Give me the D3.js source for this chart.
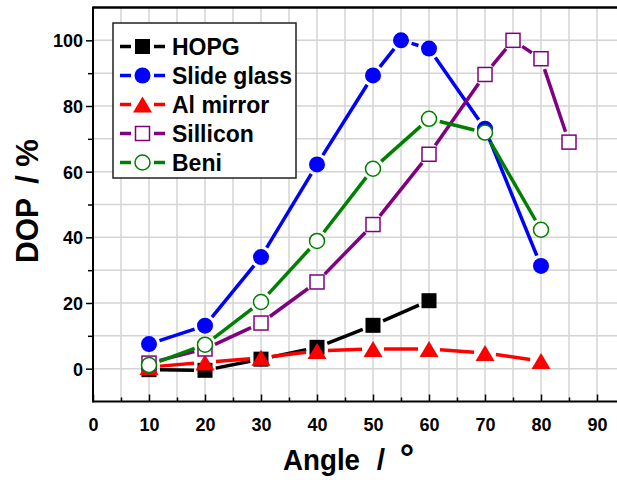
<!DOCTYPE html>
<html>
<head>
<meta charset="utf-8">
<script src="https://cdn.jsdelivr.net/npm/d3@7/dist/d3.min.js"></script>
<style>
  html, body { margin: 0; padding: 0; background: #fff; }
  svg { display: block; }
  text { font-family: "Liberation Sans", Arial, sans-serif; font-weight: bold; fill: #000; }
</style>
</head>
<body>
<svg id="chart" width="617" height="480"></svg>
<script>
// Degree of polarisation against angle for each sample
const seriesNames = ["HOPG", "Slide glass", "Al mirror", "Sillicon", "Beni"];

const hopgAngle = [10, 20, 30, 40, 50, 60];
const hopgDOP   = [-0.3, -0.5, 2.9, 6.5, 13.2, 20.7];

const slideAngle = [10, 20, 30, 40, 50, 55, 60, 70, 80];
const slideDOP   = [7.5, 13.1, 34.0, 62.2, 89.3, 100, 97.5, 73.1, 31.3];

const alAngle = [10, 20, 30, 40, 50, 60, 70, 80];
const alDOP   = [0.5, 1.9, 3.3, 5.4, 6.0, 6.0, 4.8, 2.3];

const siAngle = [10, 20, 30, 40, 50, 60, 70, 75, 80, 85];
const siDOP   = [1.7, 6.0, 13.9, 26.4, 43.9, 65.3, 89.6, 100, 94.4, 69.0];

const beniAngle = [10, 20, 30, 40, 50, 60, 70, 80];
const beniDOP   = [1.1, 7.3, 20.3, 38.9, 60.9, 76.1, 71.9, 42.3];

const xTickValues = [0, 10, 20, 30, 40, 50, 60, 70, 80, 90];
const yTickValues = [0, 20, 40, 60, 80, 100];

const seriesColors  = ["#000000", "#0000ff", "#ff0000", "#800080", "#008000"];
const seriesSymbols = ["square", "circle", "triangle", "openSquare", "openCircle"];

const series = [
  { angle: hopgAngle,  dop: hopgDOP },
  { angle: slideAngle, dop: slideDOP },
  { angle: alAngle,    dop: alDOP },
  { angle: siAngle,    dop: siDOP },
  { angle: beniAngle,  dop: beniDOP }
].map((s, i) => ({
  name: seriesNames[i],
  color: seriesColors[i],
  symbol: seriesSymbols[i],
  points: s.angle.map((a, j) => ({ x: a, y: s.dop[j] }))
}));

const svg = d3.select("#chart");
const W = 617, H = 480;
const plotLeft = 93, plotTop = 7.5, plotBottom = 401.5;

const x = d3.scaleLinear().domain([0, 90]).range([plotLeft, 597]);
const y = d3.scaleLinear().domain([-10, 110]).range([plotBottom, plotTop]);
const xMaxVisible = x.invert(W);

svg.append("rect").attr("width", W).attr("height", H).attr("fill", "#fff");

// grid
const grid = svg.append("g").attr("stroke", "#d4d4d4").attr("stroke-width", 1.5);
grid.selectAll("line.vx")
  .data(d3.range(5, xMaxVisible, 5))
  .join("line")
  .attr("x1", d => x(d)).attr("x2", d => x(d))
  .attr("y1", plotTop).attr("y2", plotBottom);
grid.selectAll("line.hy")
  .data(d3.range(0, 110, 10))
  .join("line")
  .attr("x1", plotLeft).attr("x2", W)
  .attr("y1", d => y(d)).attr("y2", d => y(d));

// y axis: major ticks outward with labels, minor ticks at every 10
const yAxis = d3.axisLeft(y).tickValues(yTickValues).tickSize(7).tickPadding(3).tickFormat(d3.format("d"));
const gy = svg.append("g").attr("transform", `translate(${plotLeft},0)`).call(yAxis);
gy.select(".domain").remove();
gy.selectAll(".tick line").attr("stroke", "#000").attr("stroke-width", 1.5);
gy.selectAll(".tick text").attr("font-size", 18).attr("font-family", "Liberation Sans, Arial, sans-serif")
  .attr("font-weight", "bold").attr("fill", "#000").attr("dy", "0.36em");
svg.append("g").attr("transform", `translate(${plotLeft},0)`)
  .call(d3.axisLeft(y).tickValues([10, 30, 50, 70, 90]).tickSize(5).tickFormat(""))
  .call(g => g.select(".domain").remove())
  .selectAll(".tick line").attr("stroke", "#000").attr("stroke-width", 1.5);

// x axis: ticks point inward
const xAxis = d3.axisBottom(x).tickValues(xTickValues).tickSize(-7).tickPadding(17).tickFormat(d3.format("d"));
const gx = svg.append("g").attr("transform", `translate(0,${plotBottom})`).call(xAxis);
gx.select(".domain").remove();
gx.selectAll(".tick line").attr("stroke", "#000").attr("stroke-width", 1.5);
gx.selectAll(".tick text").attr("font-size", 18).attr("font-family", "Liberation Sans, Arial, sans-serif")
  .attr("font-weight", "bold").attr("fill", "#000");
svg.append("g").attr("transform", `translate(0,${plotBottom})`)
  .call(d3.axisBottom(x).tickValues(d3.range(5, xMaxVisible, 10)).tickSize(-4).tickFormat(""))
  .call(g => g.select(".domain").remove())
  .selectAll(".tick line").attr("stroke", "#000").attr("stroke-width", 1.5);

// frame: left axis, bottom axis, top border
svg.append("line").attr("x1", plotLeft).attr("x2", plotLeft).attr("y1", plotTop - 1).attr("y2", plotBottom + 1)
  .attr("stroke", "#000").attr("stroke-width", 2);
svg.append("line").attr("x1", plotLeft).attr("x2", W).attr("y1", plotBottom).attr("y2", plotBottom)
  .attr("stroke", "#000").attr("stroke-width", 2);
svg.append("line").attr("x1", plotLeft).attr("x2", W).attr("y1", plotTop).attr("y2", plotTop)
  .attr("stroke", "#000").attr("stroke-width", 2.5);

// marker drawing
function drawSymbol(g, symbol, color, cx, cy) {
  if (symbol === "square") {
    g.append("rect").attr("x", cx - 7.5).attr("y", cy - 7.5).attr("width", 15).attr("height", 15)
      .attr("fill", color);
  } else if (symbol === "openSquare") {
    g.append("rect").attr("x", cx - 7).attr("y", cy - 7).attr("width", 14).attr("height", 14)
      .attr("fill", "#fff").attr("stroke", color).attr("stroke-width", 1.5);
  } else if (symbol === "circle") {
    g.append("circle").attr("cx", cx).attr("cy", cy).attr("r", 8).attr("fill", color);
  } else if (symbol === "openCircle") {
    g.append("circle").attr("cx", cx).attr("cy", cy).attr("r", 7.5)
      .attr("fill", "#fff").attr("stroke", color).attr("stroke-width", 1.5);
  } else if (symbol === "triangle") {
    const w = 19, h = 16;
    g.append("path")
      .attr("d", `M${cx},${cy - h / 2}L${cx + w / 2},${cy + h / 2}L${cx - w / 2},${cy + h / 2}Z`)
      .attr("fill", color);
  }
}

// connecting lines stop short of each marker
const gap = 11;
const plot = svg.append("g");
series.forEach(s => {
  const g = plot.append("g");
  const pts = s.points.map(p => [x(p.x), y(p.y)]);
  for (let i = 0; i < pts.length - 1; i++) {
    const [x0, y0] = pts[i], [x1, y1] = pts[i + 1];
    const dx = x1 - x0, dy = y1 - y0, d = Math.hypot(dx, dy);
    if (d <= 2 * gap) continue;
    const ux = dx / d, uy = dy / d;
    g.append("line")
      .attr("x1", x0 + ux * gap).attr("y1", y0 + uy * gap)
      .attr("x2", x1 - ux * gap).attr("y2", y1 - uy * gap)
      .attr("stroke", s.color).attr("stroke-width", 3.5);
  }
  pts.forEach(([px, py]) => drawSymbol(g, s.symbol, s.color, px, py));
});

// legend
const legend = svg.append("g");
legend.append("rect").attr("x", 113).attr("y", 23).attr("width", 183).attr("height", 155)
  .attr("fill", "#fff").attr("stroke", "#222").attr("stroke-width", 1.5);
series.forEach((s, i) => {
  const cy = 46.5 + i * 29;
  const g = legend.append("g");
  g.append("line").attr("x1", 120).attr("x2", 131).attr("y1", cy).attr("y2", cy)
    .attr("stroke", s.color).attr("stroke-width", 3.5);
  g.append("line").attr("x1", 154).attr("x2", 165).attr("y1", cy).attr("y2", cy)
    .attr("stroke", s.color).attr("stroke-width", 3.5);
  drawSymbol(g, s.symbol, s.color, 142.5, cy);
  g.append("text").attr("x", 172).attr("y", cy + 8.3).attr("font-size", 23).text(s.name);
});

// axis titles, laid out word by word so the separators keep their wide spacing
const xTitle = svg.append("g").attr("transform", "translate(0,470)");
xTitle.append("text").attr("x", 283).attr("font-size", 30)
  .attr("textLength", 77).attr("lengthAdjust", "spacingAndGlyphs").text("Angle");
xTitle.append("text").attr("x", 381).attr("text-anchor", "middle").attr("font-size", 30).text("/");
xTitle.append("text").attr("x", 407).attr("text-anchor", "middle").attr("font-size", 36).text("°");

const yTitle = svg.append("g").attr("transform", "translate(38,0) rotate(-90)");
yTitle.append("text").attr("x", -263).attr("font-size", 31)
  .attr("textLength", 65).attr("lengthAdjust", "spacingAndGlyphs").text("DOP");
yTitle.append("text").attr("x", -179.5).attr("text-anchor", "middle").attr("font-size", 31).text("/");
yTitle.append("text").attr("x", -153).attr("text-anchor", "middle").attr("font-size", 31).text("%");
</script>
</body>
</html>
